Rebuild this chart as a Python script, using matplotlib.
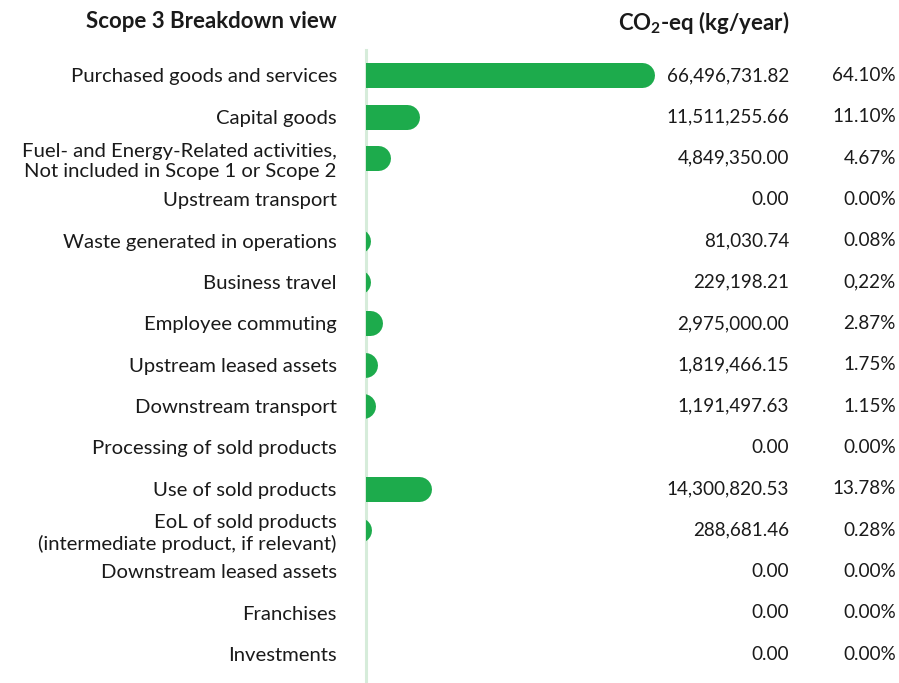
import matplotlib
matplotlib.use("Agg")
import matplotlib.pyplot as plt
import matplotlib.transforms as mtransforms

categories = [
    "Purchased goods and services",
    "Capital goods",
    "Fuel- and Energy-Related activities,\nNot included in Scope 1 or Scope 2",
    "Upstream transport",
    "Waste generated in operations",
    "Business travel",
    "Employee commuting",
    "Upstream leased assets",
    "Downstream transport",
    "Processing of sold products",
    "Use of sold products",
    "EoL of sold products\n(intermediate product, if relevant)",
    "Downstream leased assets",
    "Franchises",
    "Investments",
]
emissions = [
    66496731.82, 11511255.66, 4849350.00, 0.00, 81030.74, 229198.21,
    2975000.00, 1819466.15, 1191497.63, 0.00, 14300820.53, 288681.46,
    0.00, 0.00, 0.00,
]
shares = [
    "64.10%", "11.10%", "4.67%", "0.00%", "0.08%", "0,22%", "2.87%", "1.75%",
    "1.15%", "0.00%", "13.78%", "0.28%", "0.00%", "0.00%", "0.00%",
]

GREEN = "#1dab4c"
LINE = "#d6ecda"
TEXT = "#1a1a1a"

plt.rcParams["font.family"] = ["Lato", "DejaVu Sans"]
plt.rcParams["mathtext.fontset"] = "custom"
plt.rcParams["mathtext.rm"] = "Lato"
plt.rcParams["mathtext.bf"] = "Lato:bold"

W, H, DPI = 899, 683, 100
fig = plt.figure(figsize=(W / DPI, H / DPI), dpi=DPI)
ax = fig.add_axes([366 / W, 0, 300 / W, 633 / H])

ax.set_xlim(0, 70e6)
ax.set_ylim(14.70, -0.617)

# bars: thick lines with round caps, left end clipped by the axes
bar_px = 25
offset = mtransforms.offset_copy(ax.transData, fig=fig, x=-8.5, y=0, units="dots")
for i, v in enumerate(emissions):
    if v <= 0:
        continue
    ax.plot([-20e6, v], [i, i], color=GREEN, lw=bar_px * 72 / DPI,
            solid_capstyle="round", transform=offset, zorder=3)

for s in ["top", "right", "bottom"]:
    ax.spines[s].set_visible(False)
ax.spines["left"].set_color(LINE)
ax.spines["left"].set_linewidth(2.2)
ax.set_xticks([])
ax.set_yticks(range(len(categories)))
ax.set_yticklabels(categories, fontsize=14.6, color=TEXT, linespacing=1.25)
ax.tick_params(axis="y", length=0, pad=21)

trans = mtransforms.blended_transform_factory(fig.transFigure, ax.transData)
for i, (v, p) in enumerate(zip(emissions, shares)):
    ax.text(789 / W, i, f"{v:,.2f}", transform=trans, ha="right", va="center",
            fontsize=13.6, color=TEXT, clip_on=False)
    ax.text(896 / W, i, p, transform=trans, ha="right", va="center",
            fontsize=13.6, color=TEXT, clip_on=False)

fig.text(337 / W, 1 - 22 / H, "Scope 3 Breakdown view", ha="right", va="center",
         fontsize=16, fontweight="bold", color=TEXT)
fig.text(789 / W, 1 - 22 / H, r"CO$_\mathbf{2}$-eq (kg/year)", ha="right", va="center",
         fontsize=16, fontweight="bold", color=TEXT)

fig.savefig("out.png", dpi=DPI)
